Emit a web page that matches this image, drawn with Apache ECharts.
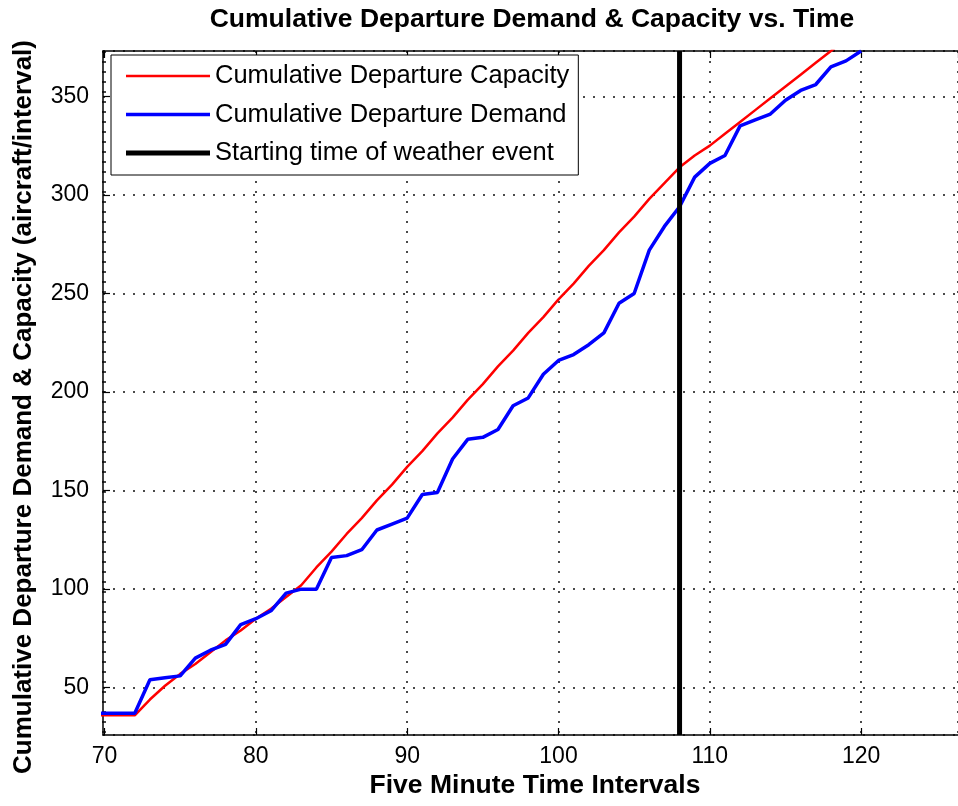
<!DOCTYPE html>
<html>
<head>
<meta charset="utf-8">
<script src="https://cdn.jsdelivr.net/npm/echarts@6/dist/echarts.min.js"></script>
<style>
  html, body { margin: 0; padding: 0; background: #fff; }
  #chart { width: 958px; height: 806px; }
</style>
</head>
<body>
<div id="chart"></div>
<script>
// Five-minute interval index for each series
const capacityTimes = [69, 70, 71, 72, 73, 74, 75, 76, 77, 78, 79, 80, 81, 82, 83, 84, 85, 86, 87, 88,
  89, 90, 91, 92, 93, 94, 95, 96, 97, 98, 99, 100, 101, 102, 103, 104, 105, 106, 107, 108,
  109, 110, 111, 112, 113, 114, 115, 116, 117, 118, 119];
const capacity = [36, 36, 36, 36, 44, 51, 57, 62, 68, 74, 79, 85, 90, 96, 102, 111, 119, 128, 136, 145,
  153, 162, 170, 179, 187, 196, 204, 213, 221, 230, 238, 247, 255, 264, 272, 281, 289, 298, 306, 314,
  320, 325, 331, 337, 343, 349, 355, 361, 367, 373, 379];

const demandTimes = [69, 70, 71, 72, 73, 74, 75, 76, 77, 78, 79, 80, 81, 82, 83, 84, 85, 86, 87, 88,
  89, 90, 91, 92, 93, 94, 95, 96, 97, 98, 99, 100, 101, 102, 103, 104, 105, 106, 107, 108,
  109, 110, 111, 112, 113, 114, 115, 116, 117, 118, 119, 120];
const demand = [37, 37, 37, 37, 54, 55, 56, 65, 69, 72, 82, 85, 89, 98, 100, 100, 116, 117, 120, 130,
  133, 136, 148, 149, 166, 176, 177, 181, 193, 197, 209, 216, 219, 224, 230, 245, 250, 272, 284, 294,
  309, 316, 320, 335, 338, 341, 348, 353, 356, 365, 368, 373];

// Interval at which the weather event starts
const eventStart = 108;

const seriesNames = ['Cumulative Departure Capacity', 'Cumulative Departure Demand', 'Starting time of weather event'];
const chartTitle = 'Cumulative Departure Demand & Capacity vs. Time';
const xTitle = 'Five Minute Time Intervals';
const yTitle = 'Cumulative Departure Demand & Capacity (aircraft/interval)';

// Axis limits
const xMin = 69.9, xMax = 126.4;
const yMin = 26, yMax = 373;

const FONT = '"Liberation Sans", Arial, Helvetica, sans-serif';

const pairs = (xs, ys) => xs.map((x, i) => [x, ys[i]]);

const chart = echarts.init(document.getElementById('chart'), null, { renderer: 'canvas' });

const gridDots = { show: true, lineStyle: { color: '#111', width: 1.5, type: [2, 8] } };
const axisLine = { show: true, onZero: false, lineStyle: { color: '#000', width: 1.5 } };
const axisTick = { show: true, inside: true, length: 7, lineStyle: { color: '#000', width: 1.2 } };

chart.setOption({
  animation: false,
  backgroundColor: '#fff',
  grid: { left: 103, top: 51, right: 0, bottom: 71, containLabel: false },
  xAxis: [{
    type: 'value', min: xMin, max: xMax, minInterval: 10, maxInterval: 10,
    position: 'bottom',
    axisLine: axisLine,
    axisTick: axisTick,
    axisLabel: { showMinLabel: false, showMaxLabel: false, color: '#000', fontFamily: FONT, fontSize: 23, margin: 10 },
    splitLine: gridDots
  }, {
    type: 'value', min: xMin, max: xMax, minInterval: 10, maxInterval: 10,
    position: 'top',
    axisLine: axisLine,
    axisTick: axisTick,
    axisLabel: { show: false },
    splitLine: { show: false }
  }],
  yAxis: [{
    type: 'value', min: yMin, max: yMax, minInterval: 50, maxInterval: 50,
    axisLine: axisLine,
    axisTick: axisTick,
    axisLabel: { showMinLabel: false, showMaxLabel: false, color: '#000', fontFamily: FONT, fontSize: 23, margin: 14 },
    splitLine: gridDots
  }],
  legend: {
    orient: 'vertical',
    left: 111, top: 55,
    padding: [8, 9, 9, 15],
    backgroundColor: '#fff',
    borderColor: '#000', borderWidth: 1,
    itemWidth: 84, itemHeight: 6, itemGap: 12.5,
    symbolKeepAspect: true,
    itemStyle: { borderWidth: 0 },
    textStyle: { color: '#000', fontFamily: FONT, fontSize: 25.5, lineHeight: 26 },
    selectedMode: false,
    data: [
      { name: seriesNames[0], icon: 'path://M0,0H84V2.5H0Z' },
      { name: seriesNames[1], icon: 'path://M0,0H84V3.5H0Z' },
      { name: seriesNames[2], icon: 'path://M0,0H84V5H0Z' }
    ]
  },
  graphic: [
    { type: 'text', x: 532, y: 20, style: { text: chartTitle, align: 'center', verticalAlign: 'middle', fill: '#000', font: 'bold 26.5px ' + FONT } },
    { type: 'text', x: 535, y: 786, style: { text: xTitle, align: 'center', verticalAlign: 'middle', fill: '#000', font: 'bold 26.5px ' + FONT } },
    { type: 'text', x: 24, y: 407, rotation: Math.PI / 2, style: { text: yTitle, align: 'center', verticalAlign: 'middle', fill: '#000', font: 'bold 26px ' + FONT } }
  ],
  series: [
    {
      name: seriesNames[0], type: 'line', data: pairs(capacityTimes, capacity),
      showSymbol: false, symbol: 'none', clip: true,
      itemStyle: { color: '#ff0000' },
      lineStyle: { color: '#ff0000', width: 2.5 }
    },
    {
      name: seriesNames[1], type: 'line', data: pairs(demandTimes, demand),
      showSymbol: false, symbol: 'none', clip: true,
      itemStyle: { color: '#0000ff' },
      lineStyle: { color: '#0000ff', width: 3.5 }
    },
    {
      name: seriesNames[2], type: 'line', data: [[eventStart, yMin], [eventStart, yMax]],
      showSymbol: false, symbol: 'none', clip: true,
      itemStyle: { color: '#000' },
      lineStyle: { color: '#000', width: 5 }
    }
  ]
});
</script>
</body>
</html>
